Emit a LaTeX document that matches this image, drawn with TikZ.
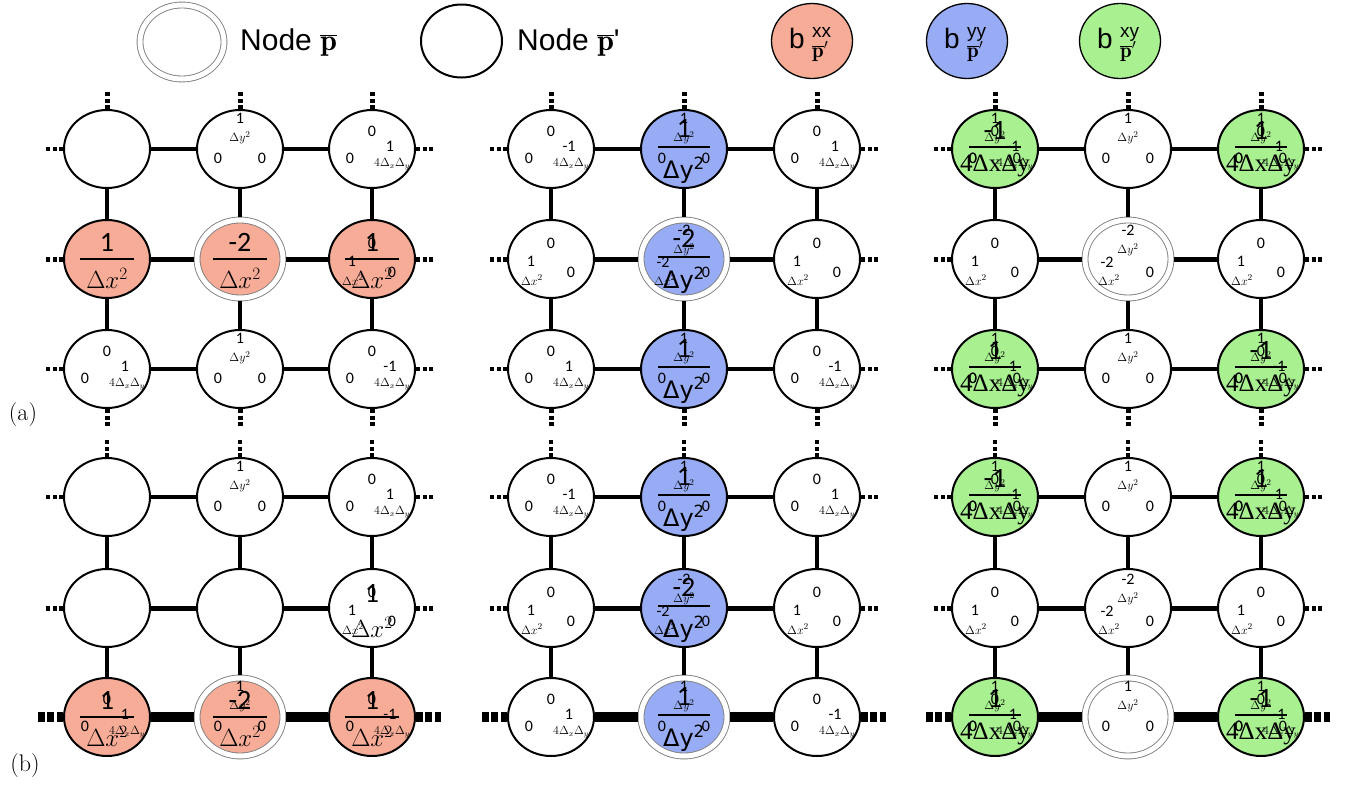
\documentclass[tikz,border=0pt]{standalone}
\usepackage{fontspec}
\usetikzlibrary{shapes.geometric}
\newfontfamily\carl{Carlito}
\newfontfamily\dejavu{DejaVu Sans}
\newfontfamily\libsans{Liberation Sans}
\newfontfamily\libser{Liberation Serif}
\definecolor{cxx}{RGB}{246,172,150}
\definecolor{cyy}{RGB}{152,172,245}
\definecolor{cxy}{RGB}{168,240,144}
\tikzset{
 nd/.style={ellipse, draw=black, line width=2pt, minimum width=86pt, minimum height=78pt, inner sep=0pt},
 dbl/.style={ellipse, draw=gray, line width=0.9pt, double=white, double distance=5pt, minimum width=86pt, minimum height=78pt, inner sep=0pt, outer sep=3.4pt},
 lgc/.style={ellipse, draw=black, line width=1.3pt, minimum width=81pt, minimum height=75pt, inner sep=0pt},
 sm/.style={font=\carl\fontsize{16}{16}\selectfont, inner sep=0pt},
 smm/.style={font=\fontsize{13}{13}\selectfont, inner sep=0pt},
 tny/.style={font=\fontsize{12}{12}\selectfont, inner sep=0pt},
 big/.style={font=\carl\fontsize{28}{28}\selectfont, inner sep=0pt},
 bigm/.style={font=\fontsize{25}{25}\selectfont, inner sep=0pt},
 bigdv/.style={font=\dejavu\fontsize{24}{24}\selectfont, inner sep=0pt},
 bigser/.style={font=\libser\fontsize{25}{25}\selectfont, inner sep=0pt},
 lgtxt/.style={anchor=base west, font=\libsans\fontsize{30}{30}\selectfont, inner sep=0pt},
 lgb/.style={anchor=base east, font=\libsans\fontsize{28}{28}\selectfont, inner sep=0pt},
 lgsup/.style={anchor=base west, font=\libsans\fontsize{19}{19}\selectfont, inner sep=0pt},
 lgsub/.style={anchor=base west, font=\fontsize{21}{21}\selectfont, inner sep=0pt},
 fr/.style={line width=1.8pt},
 ca/.style={line width=4pt},
 cb/.style={line width=5pt},
 cc/.style={line width=3.3pt},
 cv/.style={line width=4.8pt},
 cvb/.style={line width=4.2pt},
 cthick/.style={line width=10.5pt},
 stubA/.style={line width=4pt, dash pattern=on 4pt off 2.5pt},
 stubB/.style={line width=5pt, dash pattern=on 4pt off 2.5pt},
 stubT/.style={line width=10.5pt, dash pattern=on 6.5pt off 2.75pt},
 panlbl/.style={font=\fontsize{24}{24}\selectfont, inner sep=0pt}
}
% small label groups
\newcommand\LY[2]{%
 \node[sm] (#1-yn) at ([shift={(0,-31)}]#1.center) {#2};
 \node[smm] (#1-yd) at ([shift={(0,-11)}]#1.center) {$\Delta y^2$};
 \node[sm] (#1-yl) at ([shift={(-22,9)}]#1.center) {0};
 \node[sm] (#1-yr) at ([shift={(22,9)}]#1.center) {0};}
\newcommand\LX[1]{%
 \node[sm] (#1-xt) at ([shift={(0,-16)}]#1.center) {0};
 \node[sm] (#1-xn) at ([shift={(-20,2)}]#1.center) {1};
 \node[smm] (#1-xd) at ([shift={(-19,21)}]#1.center) {$\Delta x^2$};
 \node[sm] (#1-xr) at ([shift={(20,13)}]#1.center) {0};}
\newcommand\LXY[2]{%
 \node[sm] (#1-qt) at ([shift={(0,-18)}]#1.center) {0};
 \node[sm] (#1-ql) at ([shift={(-22,9)}]#1.center) {0};
 \node[sm] (#1-qn) at ([shift={(18,-3)}]#1.center) {#2};
 \node[tny] (#1-qd) at ([shift={(20,15)}]#1.center) {$4\Delta_x\Delta_y$};}
\newcommand\LC[1]{%
 \node[sm] (#1-ct) at ([shift={(0,-29)}]#1.center) {-2};
 \node[smm] (#1-cd) at ([shift={(0,-9)}]#1.center) {$\Delta y^2$};
 \node[sm] (#1-cl) at ([shift={(-21,3)}]#1.center) {-2};
 \node[smm] (#1-cx) at ([shift={(-19,21)}]#1.center) {$\Delta x^2$};
 \node[sm] (#1-cr) at ([shift={(22,13)}]#1.center) {0};}
% big fractions
\newcommand\BX[2]{%
 \node[big] (#1-bn) at ([shift={(0,-17)}]#1.center) {#2};
 \draw[fr] ([shift={(-27,0)}]#1.center) -- ([shift={(27,0)}]#1.center);
 \node[bigm] (#1-bd) at ([shift={(0,19)}]#1.center) {$\Delta x^2$};}
\newcommand\BXn[2]{%
 \node[big] (#1-bn) at ([shift={(0,-15)}]#1.center) {#2};
 \node[bigm] (#1-bd) at ([shift={(0,19)}]#1.center) {$\Delta x^2$};}
\newcommand\BY[2]{%
 \node[big] (#1-bn) at ([shift={(0,-21)}]#1.center) {#2};
 \draw[fr] ([shift={(-26,-2)}]#1.center) -- ([shift={(26,-2)}]#1.center);
 \node[bigdv] (#1-bd) at ([shift={(0,21)}]#1.center) {Δy\textsuperscript{2}};}
\newcommand\BG[2]{%
 \node[big] (#1-bn) at ([shift={(0,-19)}]#1.center) {#2};
 \draw[fr] ([shift={(-26,-2)}]#1.center) -- ([shift={(26,-2)}]#1.center);
 \node[bigser] (#1-bd) at ([shift={(0,17)}]#1.center) {4ΔxΔy};}
% legend coefficient label
\newcommand\LgB[2]{%
 \node[lgb] (#1-b) at ([shift={(-7,7)}]#1.center) {b};
 \node[lgsup] (#1-s) at ([shift={(0,-4)}]#1.center) {#2};
 \node[lgsub] (#1-p) at ([shift={(0,16)}]#1.center) {$\overline{\mathbf{p}}'$};}
% connectors of a panel
\newcommand\ConnA[1]{%
 \draw[ca] (#111) -- (#112); \draw[ca] (#112) -- (#113);
 \draw[cb] (#121) -- (#122); \draw[cb] (#122) -- (#123);
 \draw[cc] (#131) -- (#132); \draw[cc] (#132) -- (#133);
 \draw[cv] (#111) -- (#121); \draw[cv] (#121) -- (#131);
 \draw[cv] (#112) -- (#122); \draw[cv] (#122) -- (#132);
 \draw[cv] (#113) -- (#123); \draw[cv] (#123) -- (#133);
 \draw[stubA] (#111.west) -- ++(-17,0); \draw[stubA] (#113.east) -- ++(17,0);
 \draw[stubB] (#121.west) -- ++(-17,0); \draw[stubB] (#123.east) -- ++(17,0);
 \draw[stubA] (#131.west) -- ++(-17,0); \draw[stubA] (#133.east) -- ++(17,0);
 \draw[stubB] (#111.north) -- ++(0,-17); \draw[stubB] (#112.north) -- ++(0,-17); \draw[stubB] (#113.north) -- ++(0,-17);
 \draw[stubB] (#131.south) -- ++(0,17); \draw[stubB] (#132.south) -- ++(0,17); \draw[stubB] (#133.south) -- ++(0,17);}
\newcommand\ConnB[1]{%
 \draw[ca] (#111) -- (#112); \draw[ca] (#112) -- (#113);
 \draw[cb] (#121) -- (#122); \draw[cb] (#122) -- (#123);
 \draw[cthick] (#131) -- (#132); \draw[cthick] (#132) -- (#133);
 \draw[cvb] (#111) -- (#121); \draw[cvb] (#121) -- (#131);
 \draw[cvb] (#112) -- (#122); \draw[cvb] (#122) -- (#132);
 \draw[cvb] (#113) -- (#123); \draw[cvb] (#123) -- (#133);
 \draw[stubA] (#111.west) -- ++(-17,0); \draw[stubA] (#113.east) -- ++(17,0);
 \draw[stubB] (#121.west) -- ++(-17,0); \draw[stubB] (#123.east) -- ++(17,0);
 \draw[stubT] (#131.west) -- ++(-25,0); \draw[stubT] (#133.east) -- ++(25,0);
 \draw[stubA] (#111.north) -- ++(0,-17); \draw[stubA] (#112.north) -- ++(0,-17); \draw[stubA] (#113.north) -- ++(0,-17);}
\begin{document}
\begin{tikzpicture}[x=1pt,y=-1pt]
\fill[white] (0,0) rectangle (1353,790);
\useasboundingbox (0,0) rectangle (1353,790);
% ---------------- legend
\node[dbl, minimum width=84pt, minimum height=74pt] (lgP) at (182,42) {};
\node[lgtxt] (lgPt) at (240,50) {Node $\overline{\mathbf{p}}$};
\node[nd, minimum width=81pt, minimum height=73pt] (lgQ) at (461.5,41) {};
\node[lgtxt] (lgQt) at (517,50) {Node $\overline{\mathbf{p}}$'};
\node[lgc, fill=cxx] (lgXX) at (812,41) {};
\node[lgc, fill=cyy] (lgYY) at (967,41) {};
\node[lgc, fill=cxy] (lgXY) at (1120,41) {};
\LgB{lgXX}{xx} \LgB{lgYY}{yy} \LgB{lgXY}{xy}
% ---------------- panel (a)
% left
\node[nd] (aL11) at (107,149) {};
\node[nd] (aL12) at (240,149) {};
\node[nd] (aL13) at (372,149) {};
\node[nd, fill=cxx] (aL21) at (107,259) {};
\node[dbl, fill=cxx] (aL22) at (240,259) {};
\node[nd, fill=cxx] (aL23) at (372,259) {};
\node[nd] (aL31) at (107,369) {};
\node[nd] (aL32) at (240,369) {};
\node[nd] (aL33) at (372,369) {};
\LY{aL12}{1} \LXY{aL13}{1}
\BX{aL21}{1} \BX{aL22}{-2} \BX{aL23}{1} \LX{aL23}
\LXY{aL31}{1} \LY{aL32}{1} \LXY{aL33}{-1}
% middle
\node[nd] (aM11) at (551,149) {};
\node[nd, fill=cyy] (aM12) at (684,149) {};
\node[nd] (aM13) at (817,149) {};
\node[nd] (aM21) at (551,259) {};
\node[dbl, fill=cyy] (aM22) at (684,259) {};
\node[nd] (aM23) at (817,259) {};
\node[nd] (aM31) at (551,369) {};
\node[nd, fill=cyy] (aM32) at (684,369) {};
\node[nd] (aM33) at (817,369) {};
\LXY{aM11}{-1} \BY{aM12}{1} \LY{aM12}{1} \LXY{aM13}{1}
\LX{aM21} \BY{aM22}{-2} \LC{aM22} \LX{aM23}
\LXY{aM31}{1} \BY{aM32}{1} \LY{aM32}{1} \LXY{aM33}{-1}
% right
\node[nd, fill=cxy] (aR11) at (995,149) {};
\node[nd] (aR12) at (1128,149) {};
\node[nd, fill=cxy] (aR13) at (1261,149) {};
\node[nd] (aR21) at (995,259) {};
\node[dbl] (aR22) at (1128,259) {};
\node[nd] (aR23) at (1261,259) {};
\node[nd, fill=cxy] (aR31) at (995,369) {};
\node[nd] (aR32) at (1128,369) {};
\node[nd, fill=cxy] (aR33) at (1261,369) {};
\BG{aR11}{-1} \LY{aR11}{1} \LXY{aR11}{-1}
\LY{aR12}{1}
\BG{aR13}{1} \LY{aR13}{1} \LXY{aR13}{1}
\LX{aR21} \LC{aR22} \LX{aR23}
\BG{aR31}{1} \LY{aR31}{1} \LXY{aR31}{1}
\LY{aR32}{1}
\BG{aR33}{-1} \LY{aR33}{1} \LXY{aR33}{-1}
\ConnA{aL} \ConnA{aM} \ConnA{aR}
% ---------------- panel (b)
% left
\node[nd] (bL11) at (107,497) {};
\node[nd] (bL12) at (240,497) {};
\node[nd] (bL13) at (372,497) {};
\node[nd] (bL21) at (107,608) {};
\node[nd] (bL22) at (240,608) {};
\node[nd] (bL23) at (372,608) {};
\node[nd, fill=cxx] (bL31) at (107,717) {};
\node[dbl, fill=cxx] (bL32) at (240,717) {};
\node[nd, fill=cxx] (bL33) at (372,717) {};
\LY{bL12}{1} \LXY{bL13}{1}
\BXn{bL23}{1} \LX{bL23}
\BX{bL31}{1} \LXY{bL31}{1}
\BX{bL32}{-2} \LY{bL32}{1}
\BX{bL33}{1} \LXY{bL33}{-1}
% middle
\node[nd] (bM11) at (551,497) {};
\node[nd, fill=cyy] (bM12) at (684,497) {};
\node[nd] (bM13) at (817,497) {};
\node[nd] (bM21) at (551,608) {};
\node[nd, fill=cyy] (bM22) at (684,608) {};
\node[nd] (bM23) at (817,608) {};
\node[nd] (bM31) at (551,717) {};
\node[dbl, fill=cyy] (bM32) at (684,717) {};
\node[nd] (bM33) at (817,717) {};
\LXY{bM11}{-1} \BY{bM12}{1} \LY{bM12}{1} \LXY{bM13}{1}
\LX{bM21} \BY{bM22}{-2} \LC{bM22} \LX{bM23}
\LXY{bM31}{1} \BY{bM32}{1} \LY{bM32}{1} \LXY{bM33}{-1}
% right
\node[nd, fill=cxy] (bR11) at (995,497) {};
\node[nd] (bR12) at (1128,497) {};
\node[nd, fill=cxy] (bR13) at (1261,497) {};
\node[nd] (bR21) at (995,608) {};
\node[nd] (bR22) at (1128,608) {};
\node[nd] (bR23) at (1261,608) {};
\node[nd, fill=cxy] (bR31) at (995,717) {};
\node[dbl] (bR32) at (1128,717) {};
\node[nd, fill=cxy] (bR33) at (1261,717) {};
\BG{bR11}{-1} \LY{bR11}{1} \LXY{bR11}{-1}
\LY{bR12}{1}
\BG{bR13}{1} \LY{bR13}{1} \LXY{bR13}{1}
\LX{bR21} \LC{bR22} \LX{bR23}
\BG{bR31}{1} \LY{bR31}{1} \LXY{bR31}{1}
\LY{bR32}{1}
\BG{bR33}{-1} \LY{bR33}{1} \LXY{bR33}{-1}
\ConnB{bL} \ConnB{bM} \ConnB{bR}
% ---------------- panel labels
\node[panlbl] (lbla) at (23,415) {(a)};
\node[panlbl] (lblb) at (25,766) {(b)};
\end{tikzpicture}
\end{document}
